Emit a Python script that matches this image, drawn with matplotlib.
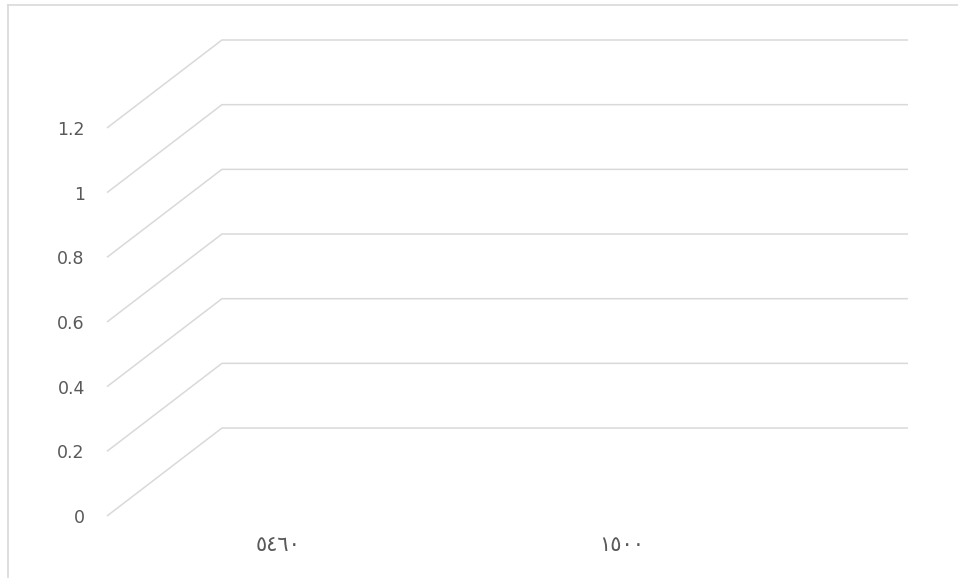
import matplotlib
matplotlib.use("Agg")
import matplotlib.pyplot as plt
from matplotlib.lines import Line2D

# chart data (the reference chart is empty: no bars are visible)
categories = ["٥٤٦٠", "١٥٠٠"]
values = [0, 0]
y_ticks = [0, 0.2, 0.4, 0.6, 0.8, 1, 1.2]
y_tick_labels = ["0", "0.2", "0.4", "0.6", "0.8", "1", "1.2"]

grid_color = "#d9d9d9"
text_color = "#595959"

# 3d depth offset of the back wall, in data units
depth_x = 0.335
depth_y = 0.272

fig = plt.figure(figsize=(9.58, 5.78), dpi=100)
W, H = 958, 578
# axes spans from front-left corner (107, 516) to back-right corner (908, 40)
ax = fig.add_axes([107 / W, (H - 516) / H, (908 - 107) / W, (516 - 40) / H])

n = len(categories)
ax.set_xlim(0, n + depth_x)
ax.set_ylim(0, y_ticks[-1] + depth_y)

# perspective gridlines: diagonal on the side wall, then horizontal on the back wall
for v in y_ticks:
    ax.plot([0, depth_x, n + depth_x], [v, v + depth_y, v + depth_y],
            color=grid_color, lw=1.1, solid_capstyle="butt", clip_on=False)

xs = [i + 0.5 for i in range(n)]
ax.bar(xs, values, width=0.5, color="#4472c4", linewidth=0)

ax.set_yticks(y_ticks)
ax.set_yticklabels(y_tick_labels)
ax.set_xticks(xs)
ax.set_xticklabels(categories, family=["DejaVu Sans"])
ax.tick_params(axis="y", length=0, pad=16, labelsize=12.5, labelcolor=text_color)
ax.tick_params(axis="x", length=0, pad=14, labelsize=15, labelcolor=text_color)

for s in ax.spines.values():
    s.set_visible(False)
ax.patch.set_alpha(0)

# chart area border (top and left edges visible)
fig.add_artist(Line2D([7.5 / W, 7.5 / W], [0, (H - 4.5) / H], color=grid_color, lw=1.2))
fig.add_artist(Line2D([7.5 / W, 1], [(H - 4.5) / H, (H - 4.5) / H], color=grid_color, lw=1.2))

fig.savefig("out.png", dpi=100)
